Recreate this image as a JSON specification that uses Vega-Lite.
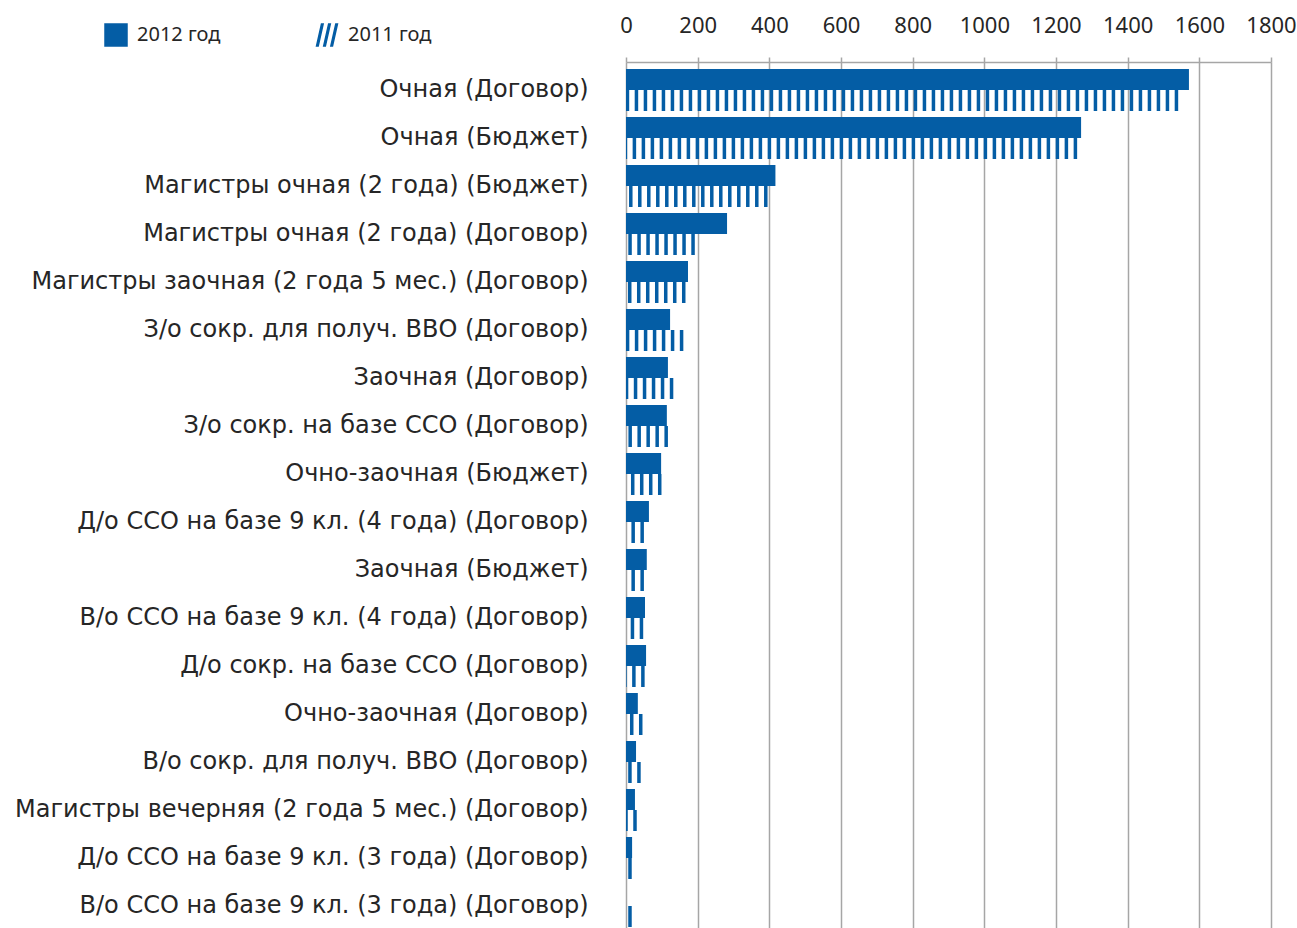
{
  "$schema": "https://vega.github.io/schema/vega-lite/v6.json",
  "autosize": {"type": "none"},
  "padding": {"left": 626, "top": 62, "right": 26, "bottom": 0},
  "width": 645,
  "height": 872,
  "config": {"font": "Noto Sans", "view": {"stroke": null}},
  "data": {
    "values": [
      {"cat": "Очная (Договор)", "year": "2012 год", "value": 1571},
      {"cat": "Очная (Договор)", "year": "2011 год", "value": 1541},
      {"cat": "Очная (Бюджет)", "year": "2012 год", "value": 1270},
      {"cat": "Очная (Бюджет)", "year": "2011 год", "value": 1259},
      {"cat": "Магистры очная (2 года) (Бюджет)", "year": "2012 год", "value": 417},
      {"cat": "Магистры очная (2 года) (Бюджет)", "year": "2011 год", "value": 395},
      {"cat": "Магистры очная (2 года) (Договор)", "year": "2012 год", "value": 282},
      {"cat": "Магистры очная (2 года) (Договор)", "year": "2011 год", "value": 192},
      {"cat": "Магистры заочная (2 года 5 мес.) (Договор)", "year": "2012 год", "value": 173},
      {"cat": "Магистры заочная (2 года 5 мес.) (Договор)", "year": "2011 год", "value": 166},
      {"cat": "З/о сокр. для получ. ВВО (Договор)", "year": "2012 год", "value": 123},
      {"cat": "З/о сокр. для получ. ВВО (Договор)", "year": "2011 год", "value": 160},
      {"cat": "Заочная (Договор)", "year": "2012 год", "value": 117},
      {"cat": "Заочная (Договор)", "year": "2011 год", "value": 132},
      {"cat": "З/о сокр. на базе ССО (Договор)", "year": "2012 год", "value": 114},
      {"cat": "З/о сокр. на базе ССО (Договор)", "year": "2011 год", "value": 117},
      {"cat": "Очно-заочная (Бюджет)", "year": "2012 год", "value": 98},
      {"cat": "Очно-заочная (Бюджет)", "year": "2011 год", "value": 99},
      {"cat": "Д/о ССО на базе 9 кл. (4 года) (Договор)", "year": "2012 год", "value": 64},
      {"cat": "Д/о ССО на базе 9 кл. (4 года) (Договор)", "year": "2011 год", "value": 50},
      {"cat": "Заочная (Бюджет)", "year": "2012 год", "value": 58},
      {"cat": "Заочная (Бюджет)", "year": "2011 год", "value": 50},
      {"cat": "В/о ССО на базе 9 кл. (4 года) (Договор)", "year": "2012 год", "value": 53},
      {"cat": "В/о ССО на базе 9 кл. (4 года) (Договор)", "year": "2011 год", "value": 48},
      {"cat": "Д/о сокр. на базе ССО (Договор)", "year": "2012 год", "value": 56},
      {"cat": "Д/о сокр. на базе ССО (Договор)", "year": "2011 год", "value": 52},
      {"cat": "Очно-заочная (Договор)", "year": "2012 год", "value": 33},
      {"cat": "Очно-заочная (Договор)", "year": "2011 год", "value": 46},
      {"cat": "В/о сокр. для получ. ВВО (Договор)", "year": "2012 год", "value": 28},
      {"cat": "В/о сокр. для получ. ВВО (Договор)", "year": "2011 год", "value": 41},
      {"cat": "Магистры вечерняя (2 года 5 мес.) (Договор)", "year": "2012 год", "value": 25},
      {"cat": "Магистры вечерняя (2 года 5 мес.) (Договор)", "year": "2011 год", "value": 30},
      {"cat": "Д/о ССО на базе 9 кл. (3 года) (Договор)", "year": "2012 год", "value": 17},
      {"cat": "Д/о ССО на базе 9 кл. (3 года) (Договор)", "year": "2011 год", "value": 16},
      {"cat": "В/о ССО на базе 9 кл. (3 года) (Договор)", "year": "2012 год", "value": 0},
      {"cat": "В/о ССО на базе 9 кл. (3 года) (Договор)", "year": "2011 год", "value": 16}
    ]
  },
  "encoding": {
    "y": {
      "field": "cat", "type": "nominal", "sort": null,
      "scale": {"paddingInner": 0.125, "paddingOuter": 0.146},
      "axis": {"title": null, "domain": false, "ticks": false, "labelFont": "DejaVu Sans", "labelFontSize": 24, "labelColor": "#262626", "labelPadding": 38, "labelLimit": 640}
    },
    "x": {
      "field": "value", "type": "quantitative",
      "scale": {"domain": [0, 1800]},
      "axis": {
        "orient": "top", "title": null, "values": [0, 200, 400, 600, 800, 1000, 1200, 1400, 1600, 1800],
        "format": "d", "labelOverlap": false, "labelFlush": false,
        "labelFontSize": 22, "labelColor": "#262626", "labelPadding": 20,
        "domainColor": "#a6a6a6", "domainWidth": 1.5, "tickColor": "#a6a6a6", "tickWidth": 1.5, "tickSize": 5,
        "grid": true, "gridColor": "#a6a6a6", "gridWidth": 1.5
      }
    },
    "yOffset": {"field": "year", "type": "nominal", "scale": {"domain": ["2012 год", "2011 год"]}},
    "color": {
      "field": "year", "type": "nominal",
      "scale": {"domain": ["2012 год", "2011 год"], "range": ["#045da5", "#045da5"]},
      "legend": {
        "title": null, "orient": "none", "legendX": -522, "legendY": -39, "direction": "horizontal",
        "symbolSize": 484, "labelFontSize": 20, "labelColor": "#262626", "labelOffset": 9, "columnPadding": 92, "padding": 0,
        "encode": {
          "symbols": {
            "update": {
              "fill": {"value": "#045da5"},
              "stroke": {"value": "transparent"},
              "shape": {"signal": "datum.value === '2011 год' ? 'M-0.95,1L-0.8,1L-0.35,-1L-0.5,-1Z M-0.3,1L-0.15,1L0.3,-1L0.15,-1Z M0.35,1L0.5,1L0.95,-1L0.8,-1Z' : 'square'"}
            }
          }
        }
      }
    }
  },
  "layer": [
    {"transform": [{"filter": "datum.year === '2012 год'"}], "mark": {"type": "bar"}},
    {
      "transform": [{"filter": "datum.year === '2011 год'"}],
      "mark": {"type": "rule", "strokeWidth": 21, "strokeDash": [3.5, 5.5], "strokeCap": "butt"},
      "encoding": {"x2": {"datum": 0}}
    }
  ]
}
